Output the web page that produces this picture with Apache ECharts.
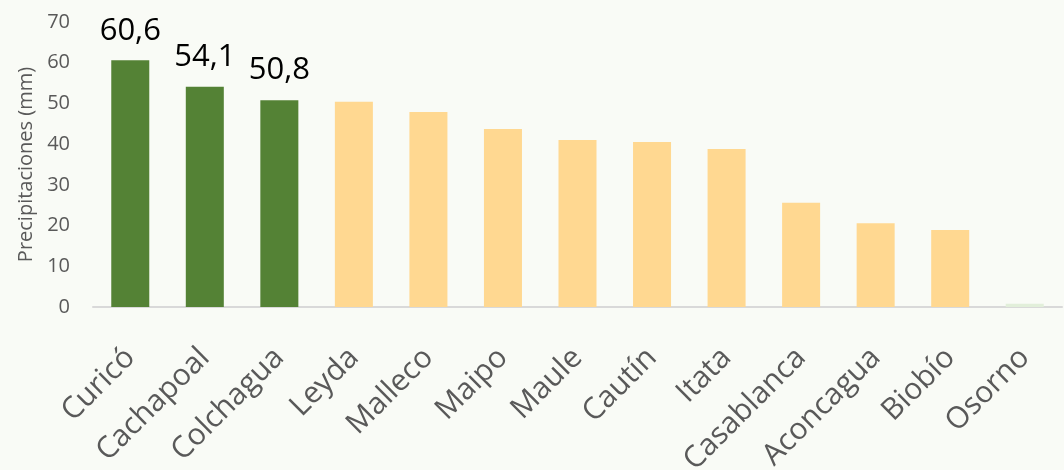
<!DOCTYPE html>
<html>
<head>
<meta charset="utf-8">
<script src="https://cdn.jsdelivr.net/npm/echarts@6/dist/echarts.min.js"></script>
<style>
  html, body { margin: 0; padding: 0; background: #f9fbf6; }
  #chart { width: 1064px; height: 470px; }
</style>
</head>
<body>
<div id="chart"></div>
<script>
// valles y precipitaciones
var valles = ["Curicó", "Cachapoal", "Colchagua", "Leyda", "Malleco", "Maipo", "Maule",
  "Cautín", "Itata", "Casablanca", "Aconcagua", "Biobío", "Osorno"];
var precip = [60.6, 54.1, 50.8, 50.4, 47.9, 43.7, 41.0, 40.5, 38.8, 25.6, 20.6, 18.9, 0.8];
var destacados = 3; // los primeros con etiqueta y color verde
var yTicks = [0, 10, 20, 30, 40, 50, 60, 70];

var chart = echarts.init(document.getElementById("chart"));

var datos = precip.map(function (v, i) {
  var color = i < destacados ? "#548235" : "#ffd891";
  if (valles[i] == "Osorno") color = "#e2efda";
  return {
    value: v,
    itemStyle: { color: color },
    label: { show: i < destacados }
  };
});

chart.setOption({
  backgroundColor: "#f9fbf6",
  textStyle: { fontFamily: "Open Sans" },
  grid: { left: 93, right: 2, top: 22, bottom: 163, outerBoundsMode: "none", containLabel: false },
  xAxis: {
    type: "category",
    data: valles,
    axisLine: { lineStyle: { color: "#d9d9d9", width: 2 } },
    axisTick: { length: 11, lineStyle: { color: "#d9d9d9", width: 2 } },
    axisLabel: {
      interval: 0, rotate: 45, margin: 46,
      fontSize: 30, color: "#595959", fontFamily: "Open Sans"
    }
  },
  yAxis: {
    type: "value",
    min: yTicks[0], max: yTicks[yTicks.length - 1], interval: 10,
    name: "Precipitaciones (mm)",
    nameLocation: "middle",
    nameGap: 55,
    nameTextStyle: { fontSize: 20, color: "#595959" },
    axisLine: { show: false },
    axisTick: { show: false },
    splitLine: { show: false },
    axisLabel: { fontSize: 20, color: "#595959", margin: 23 }
  },
  series: [{
    type: "bar",
    data: datos,
    barWidth: "51%",
    label: {
      position: "top",
      distance: 14,
      fontSize: 31,
      color: "#000",
      formatter: function (p) { return String(p.value).replace(".", ","); }
    }
  }]
});
</script>
</body>
</html>
